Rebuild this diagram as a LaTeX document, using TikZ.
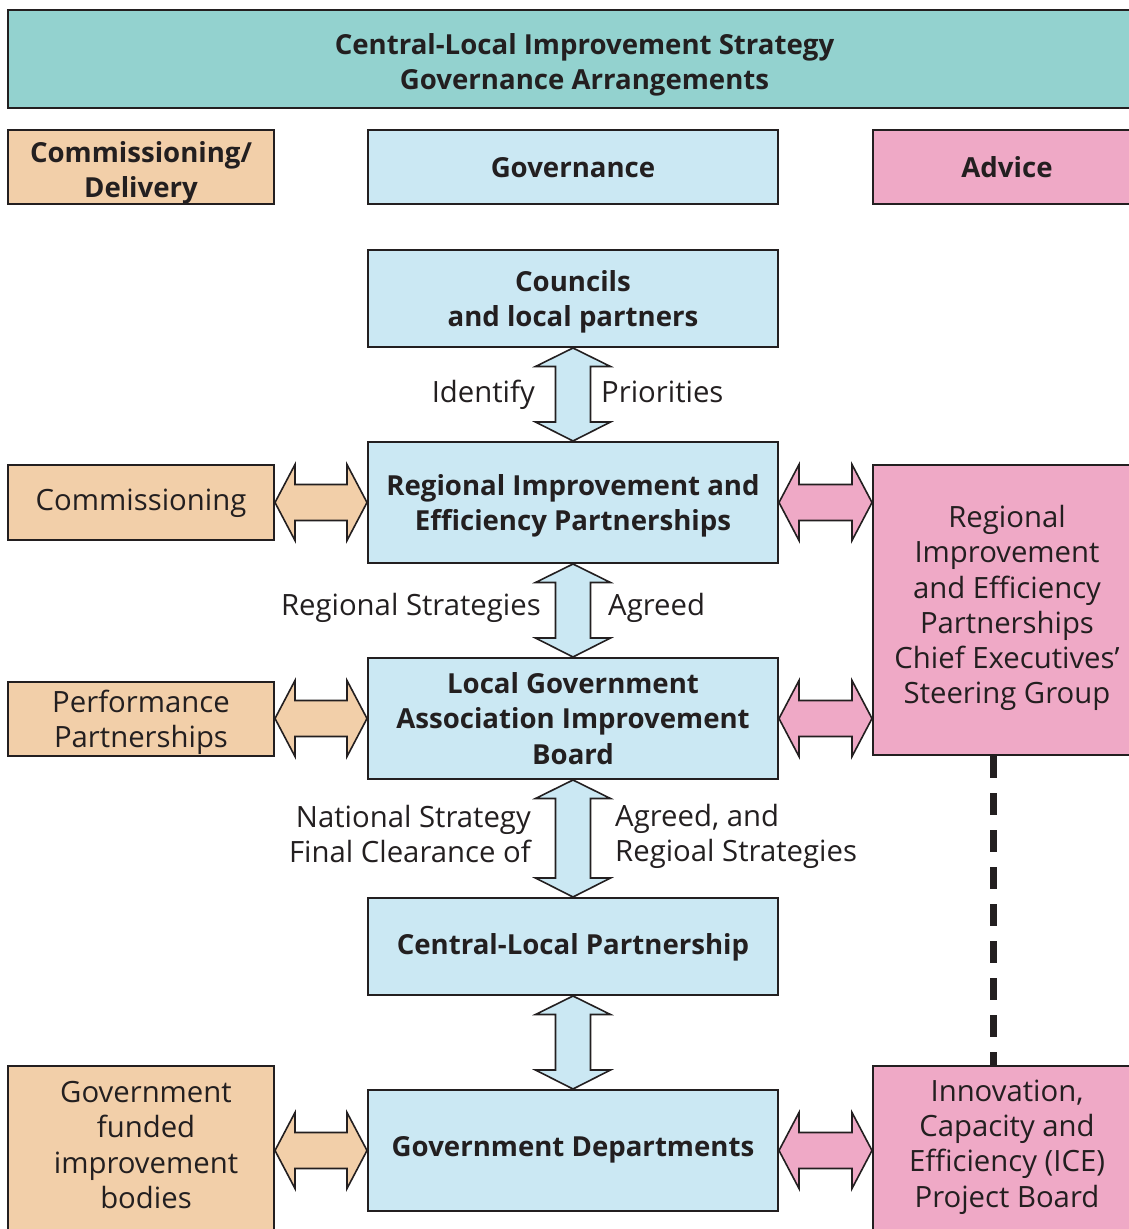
\documentclass[tikz,border=0pt]{standalone}
\usepackage{fontspec}
\setmainfont{Open Sans}
\usetikzlibrary{calc}
\definecolor{cTeal}{HTML}{93D2CF}
\definecolor{cPeach}{HTML}{F2CFA9}
\definecolor{cBlue}{HTML}{CBE8F3}
\definecolor{cPink}{HTML}{EFA9C6}
\definecolor{cLine}{HTML}{231F20}
\newcommand\fs{\fontsize{29.3}{35.2}\selectfont}
\newcommand\fb{\fontsize{27.6}{35.2}\selectfont\bfseries}
\newcommand\varrow[3]{%
 \draw[arr,fill=#3] let \p1=(#1.south), \p2=(#2.north) in
 (\x1,\y1) -- (\x1+37.5pt,\y1-18.5pt) -- (\x1+17.5pt,\y1-18.5pt) -- (\x1+17.5pt,\y2+19pt)
 -- (\x1+37.5pt,\y2+19pt) -- (\x1,\y2) -- (\x1-37.5pt,\y2+19pt) -- (\x1-17.5pt,\y2+19pt)
 -- (\x1-17.5pt,\y1-18.5pt) -- (\x1-37.5pt,\y1-18.5pt) -- cycle;}
\newcommand\harrow[4]{%
 \draw[arr,fill=#3] let \p1=(#1.east |- #4.center), \p2=(#2.west |- #4.center) in
 (\x1,\y1) -- (\x1+20pt,\y1+38pt) -- (\x1+20pt,\y1+18pt) -- (\x2-20pt,\y1+18pt)
 -- (\x2-20pt,\y1+38pt) -- (\x2,\y1) -- (\x2-20pt,\y1-38pt) -- (\x2-20pt,\y1-18pt)
 -- (\x1+20pt,\y1-18pt) -- (\x1+20pt,\y1-38pt) -- cycle;}
% text of a box: #1 box name, #2 style, #3 downward shift, #4 text
\newcommand\boxtext[4]{\node[#2] (#1T) at ($(#1.center)+(0,#3)$) {#4};}
\begin{document}
\begin{tikzpicture}[x=1pt,y=-1pt,
  box/.style={draw=cLine, line width=2pt, inner sep=0pt},
  rtxt/.style={inner sep=0pt, align=center, font=\fs, text=cLine},
  btxt/.style={inner sep=0pt, align=center, font=\fb, text=cLine},
  arr/.style={draw=cLine, line width=1.6pt, line join=miter},
  lbl/.style={inner sep=0pt, font=\fs, text=cLine},
  dashln/.style={draw=cLine, line width=7pt, dash pattern=on 22pt off 15pt}]
\useasboundingbox (0,0) rectangle (1129,1229);
\clip (0,0) rectangle (1129,1229);
% header row
\node[box, fill=cTeal, minimum width=1153pt, minimum height=98pt] (title) at (584.5,59) {};
\node[box, fill=cPeach, minimum width=266pt, minimum height=74pt] (comdel) at (141,167) {};
\node[box, fill=cBlue, minimum width=410pt, minimum height=74pt] (gov) at (573,167) {};
\node[box, fill=cPink, minimum width=268pt, minimum height=74pt] (advice) at (1007,167) {};
% central column
\node[box, fill=cBlue, minimum width=410pt, minimum height=97pt] (councils) at (573,298.5) {};
\node[box, fill=cBlue, minimum width=410pt, minimum height=121pt] (riep) at (573,502.5) {};
\node[box, fill=cBlue, minimum width=410pt, minimum height=121pt] (lga) at (573,718.5) {};
\node[box, fill=cBlue, minimum width=410pt, minimum height=97pt] (clp) at (573,946.5) {};
\node[box, fill=cBlue, minimum width=410pt, minimum height=121pt] (gd) at (573,1150.5) {};
% left column
\node[box, fill=cPeach, minimum width=266pt, minimum height=75pt] (comm) at (141,502.5) {};
\node[box, fill=cPeach, minimum width=266pt, minimum height=74pt] (perf) at (141,719) {};
\node[box, fill=cPeach, minimum width=266pt, minimum height=184pt] (gfib) at (141,1158) {};
% right column
\node[box, fill=cPink, minimum width=268pt, minimum height=290pt] (steer) at (1007,610) {};
\node[box, fill=cPink, minimum width=268pt, minimum height=184pt] (ice) at (1007,1158) {};
% box texts
\boxtext{title}{btxt}{6}{Central-Local Improvement Strategy\\Governance Arrangements}
\boxtext{comdel}{btxt}{6}{Commissioning/\\Delivery}
\boxtext{gov}{btxt}{1}{Governance}
\boxtext{advice}{btxt}{0}{Advice}
\boxtext{councils}{btxt}{3}{Councils\\and local partners}
\boxtext{riep}{btxt}{3}{Regional Improvement and\\Efficiency Partnerships}
\boxtext{lga}{btxt}{0}{Local Government\\Association Improvement\\Board}
\boxtext{clp}{btxt}{1}{Central-Local Partnership}
\boxtext{gd}{btxt}{-1}{Government Departments}
\boxtext{comm}{rtxt}{1}{Commissioning}
\boxtext{perf}{rtxt}{3}{Performance\\Partnerships}
\boxtext{gfib}{rtxt}{-13}{\hspace*{10pt}Government\\\hspace*{10pt}funded\\\hspace*{10pt}improvement\\\hspace*{10pt}bodies}
\boxtext{steer}{rtxt}{-2}{Regional\\Improvement\\and Efficiency\\Partnerships\\Chief Executives’\\Steering Group}
\boxtext{ice}{rtxt}{-11}{Innovation,\\Capacity and\\Efficiency (ICE)\\Project Board}
% dashed link
\draw[dashln] ($(steer.south)+(-14,0)$) -- ($(ice.north)+(-14,0)$);
% vertical arrows
\varrow{councils}{riep}{cBlue}
\varrow{riep}{lga}{cBlue}
\varrow{lga}{clp}{cBlue}
\varrow{clp}{gd}{cBlue}
% horizontal arrows
\harrow{comm}{riep}{cPeach}{riep}
\harrow{riep}{steer}{cPink}{riep}
\harrow{perf}{lga}{cPeach}{lga}
\harrow{lga}{steer}{cPink}{lga}
\harrow{gfib}{gd}{cPeach}{gd}
\harrow{gd}{ice}{cPink}{gd}
% arrow labels
\node[lbl, anchor=base east] (l1) at (535,402) {Identify};
\node[lbl, anchor=base west] (r1) at (601,402) {Priorities};
\node[lbl, anchor=base east] (l2) at (541,615) {Regional Strategies};
\node[lbl, anchor=base west] (r2) at (608,615) {Agreed};
\node[lbl, anchor=east, align=right] (l3) at (531,834) {National Strategy\\Final Clearance of};
\node[lbl, anchor=west, align=left] (r3) at (615,836) {Agreed, and\\Regioal Strategies};
\end{tikzpicture}
\end{document}
